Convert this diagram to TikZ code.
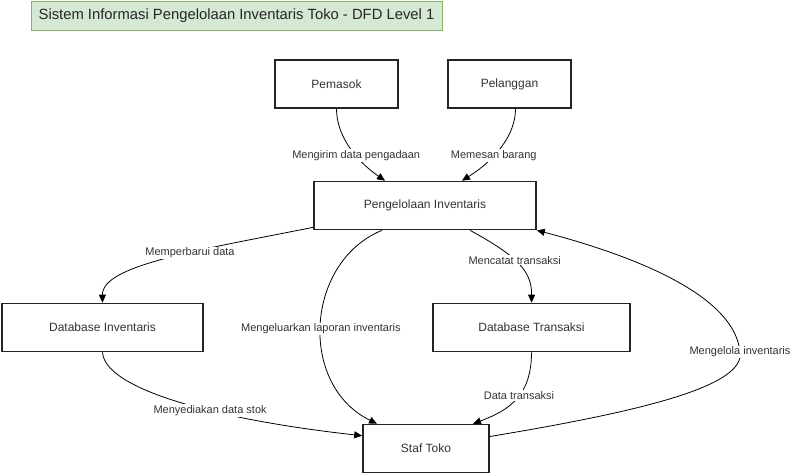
\documentclass[tikz,border=0pt]{standalone}
\usepackage{fontspec}
\setmainfont{Liberation Sans}
\usepackage{tikz}
\usetikzlibrary{arrows.meta, positioning, calc}
\definecolor{mydark}{RGB}{36,36,36}
\definecolor{mytext}{RGB}{51,51,51}
\definecolor{hdrgreen}{RGB}{213,232,212}
\definecolor{mygreen}{RGB}{130,179,102}
\tikzset{
  block/.style={rectangle, draw=mydark, fill=white, line width=1.6pt,
    minimum height=48pt, font=\fontsize{12}{14}\selectfont, text=mytext},
  titlebox/.style={rectangle, draw=mygreen, fill=hdrgreen, line width=0.8pt,
    minimum width=411pt, minimum height=29pt, font=\fontsize{14.8}{17}\selectfont, text=black!85},
  flow/.style={-{Triangle[length=8pt,width=7pt]}, line width=0.8pt, color=black},
  lbl/.style={fill=white, inner sep=1pt, font=\fontsize{11}{13}\selectfont, text=mytext}
}
\begin{document}
\begin{tikzpicture}[x=1pt, y=-1pt]
  \useasboundingbox (0,0) rectangle (792,475);
  % Title
  \node[titlebox] (title) at (236.5,15.5) {Sistem Informasi Pengelolaan Inventaris Toko - DFD Level 1};

  % External entities and processes
  \node[block, minimum width=123pt] (pemasok) at (336.5,84) {Pemasok};
  \node[block, minimum width=123pt] (pelanggan) at (509.5,84) {Pelanggan};
  \node[block, minimum width=222pt] (pengelolaan) at (425,205.5) {Pengelolaan Inventaris};
  \node[block, minimum width=201pt] (dbinventaris) at (102.5,327.5) {Database Inventaris};
  \node[block, minimum width=197pt] (dbtransaksi) at (531.5,327.5) {Database Transaksi};
  \node[block, minimum width=126pt] (staf) at (426,448.5) {Staf Toko};

  % Flows into the main process
  \draw[flow] (pemasok.south) .. controls (336.5,135) and (355,160) ..
    node[lbl, pos=0.62] {Mengirim data pengadaan} ([xshift=-40pt]pengelolaan.north);
  \draw[flow] ([xshift=6pt]pelanggan.south) .. controls (515.5,135) and (495,160) ..
    node[lbl, pos=0.62] {Memesan barang} ([xshift=37pt]pengelolaan.north);

  % Flows out of the main process
  \draw[flow] ([yshift=3pt]pengelolaan.south west) .. controls (200,250) and (102,265) ..
    node[lbl, pos=0.4] {Memperbarui data} (dbinventaris.north);
  \draw[flow] ([xshift=-43pt]pengelolaan.south) .. controls (305,262) and (298,385) ..
    node[lbl, pos=0.52] {Mengeluarkan laporan inventaris} ([xshift=-49pt]staf.north);
  \draw[flow] ([xshift=45pt]pengelolaan.south) .. controls (515,255) and (532,270) ..
    node[lbl, pos=0.45] {Mencatat transaksi} (dbtransaksi.north);

  % Flows to the store staff
  \draw[flow] (dbtransaksi.south) .. controls (531.5,395) and (510,410) ..
    node[lbl, pos=0.45] {Data transaksi} ([xshift=47pt]staf.north);
  \draw[flow] (dbinventaris.south) .. controls (105,390) and (220,420) ..
    node[lbl, pos=0.6] {Menyediakan data stok} ([yshift=-12pt]staf.north west);

  % Feedback loop
  \draw[flow] ([yshift=12pt]staf.east) .. controls (650,410) and (745,385) .. (740,352)
    node[lbl] {Mengelola inventaris}
    .. controls (735,300) and (650,260) .. (pengelolaan.south east);
\end{tikzpicture}
\end{document}
